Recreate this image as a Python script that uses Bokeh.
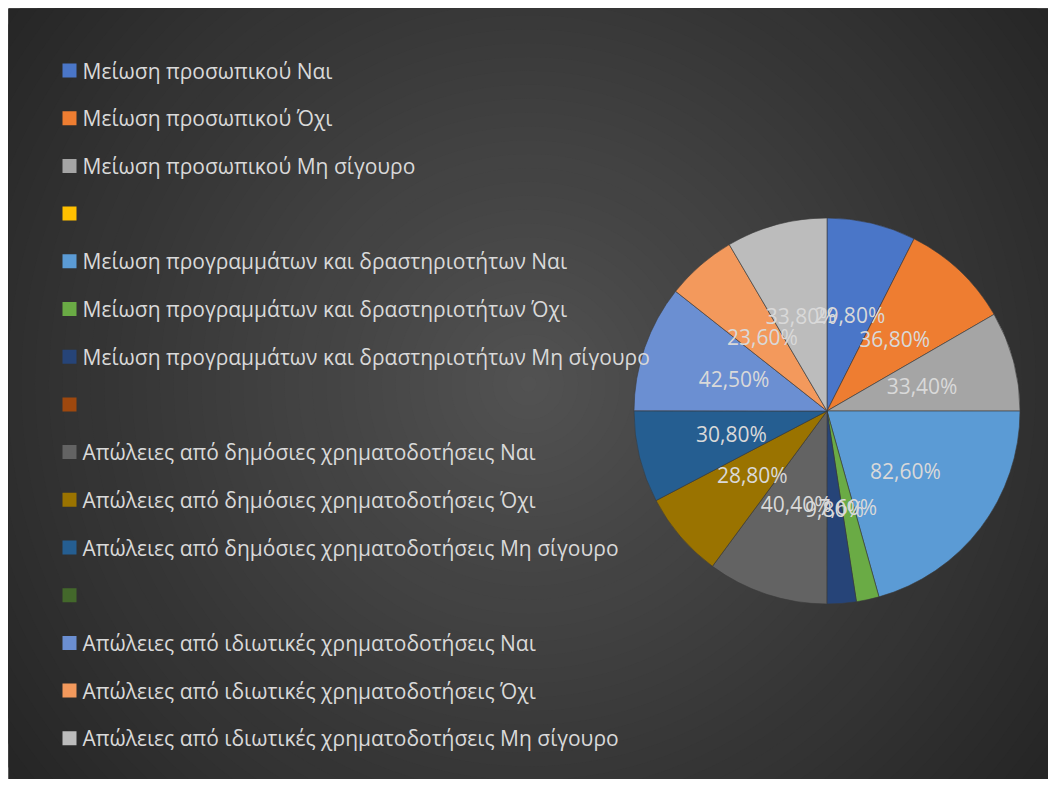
import numpy as np
from bokeh.plotting import figure
from bokeh.models import Range1d, ColumnDataSource
from bokeh.core.properties import value
from bokeh.embed import file_html
from bokeh.resources import INLINE

# ---- data ----
labels = [
    "Μείωση προσωπικού Ναι",
    "Μείωση προσωπικού Όχι",
    "Μείωση προσωπικού Μη σίγουρο",
    "",
    "Μείωση προγραμμάτων και δραστηριοτήτων Ναι",
    "Μείωση προγραμμάτων και δραστηριοτήτων Όχι",
    "Μείωση προγραμμάτων και δραστηριοτήτων Μη σίγουρο",
    "",
    "Απώλειες από δημόσιες χρηματοδοτήσεις Ναι",
    "Απώλειες από δημόσιες χρηματοδοτήσεις Όχι",
    "Απώλειες από δημόσιες χρηματοδοτήσεις Μη σίγουρο",
    "",
    "Απώλειες από ιδιωτικές χρηματοδοτήσεις Ναι",
    "Απώλειες από ιδιωτικές χρηματοδοτήσεις Όχι",
    "Απώλειες από ιδιωτικές χρηματοδοτήσεις Μη σίγουρο",
]
values = [29.8, 36.8, 33.4, 0.0,
          82.6, 7.6, 9.8, 0.0,
          40.4, 28.8, 30.8, 0.0,
          42.5, 23.6, 33.8]
colors = ["#4a76c8", "#ee7d31", "#a5a5a5", "#ffc000",
          "#5b9bd5", "#6aab45", "#264478", "#9e480e",
          "#636363", "#9a7300", "#255e91", "#43682b",
          "#6b8fd2", "#f3995c", "#bcbcbc"]

W, H = 1040, 771
p = figure(width=W + 8, height=H + 8, output_backend="svg", toolbar_location=None,
           x_range=Range1d(0, W), y_range=Range1d(0, H),
           min_border_left=8, min_border_top=8, min_border_right=0,
           min_border_bottom=0)
p.axis.visible = False
p.grid.visible = False
p.outline_line_color = None
p.background_fill_color = "#262626"
p.border_fill_color = "white"

# ---- radial background gradient (decoration) ----
n = 48
rr = np.linspace(660, 8, n)
c0 = np.array([0x26, 0x26, 0x26])
c1 = np.array([0x52, 0x52, 0x52])
bg_cols = []
for i in range(n):
    t = i / (n - 1)
    c = (c0 + (c1 - c0) * t).astype(int)
    bg_cols.append("#%02x%02x%02x" % tuple(c))
p.circle(x=[W / 2] * n, y=[H / 2 + 10] * n, radius=rr, fill_color=bg_cols,
         line_color=None)

# ---- pie ----
cx, cy, R = 818.5, 368.5, 193
vals = np.array(values)
total = vals.sum()
cum = np.concatenate([[0], np.cumsum(vals)]) / total * 2 * np.pi
start = np.pi / 2 - cum[:-1]
end = np.pi / 2 - cum[1:]
keep = vals > 0
src = ColumnDataSource(dict(start=start[keep], end=end[keep],
                            color=[c for c, k in zip(colors, keep) if k]))
p.wedge(x=cx, y=cy, radius=R, start_angle="start", end_angle="end",
        direction="clock", fill_color="color", line_color="#3a3a3a",
        line_width=0.6, source=src)

mid = (cum[:-1] + cum[1:]) / 2
lr = 0.51 * R
lab_x, lab_y, lab_t = [], [], []
for m, v in zip(mid, values):
    if v > 0:
        lab_x.append(cx + lr * np.sin(m))
        lab_y.append(cy + lr * np.cos(m))
        lab_t.append(("%.2f" % v).replace(".", ",") + "%")
p.text(x=lab_x, y=lab_y, text=lab_t, text_align="center", text_baseline="middle",
       text_color="#d9d9d9", text_font=value("Open Sans"), text_font_size="21px")

# ---- legend ----
top_y = 709
step = 47.7
ly = [top_y - i * step for i in range(len(labels))]
p.rect(x=[61] * len(labels), y=ly, width=14, height=14, fill_color=colors,
       line_color=None)
p.text(x=[74] * len(labels), y=ly, text=labels, text_align="left",
       text_baseline="middle", text_color="#d9d9d9",
       text_font=value("Open Sans"), text_font_size="21px")

open("out.html", "w").write(file_html(p, INLINE))
